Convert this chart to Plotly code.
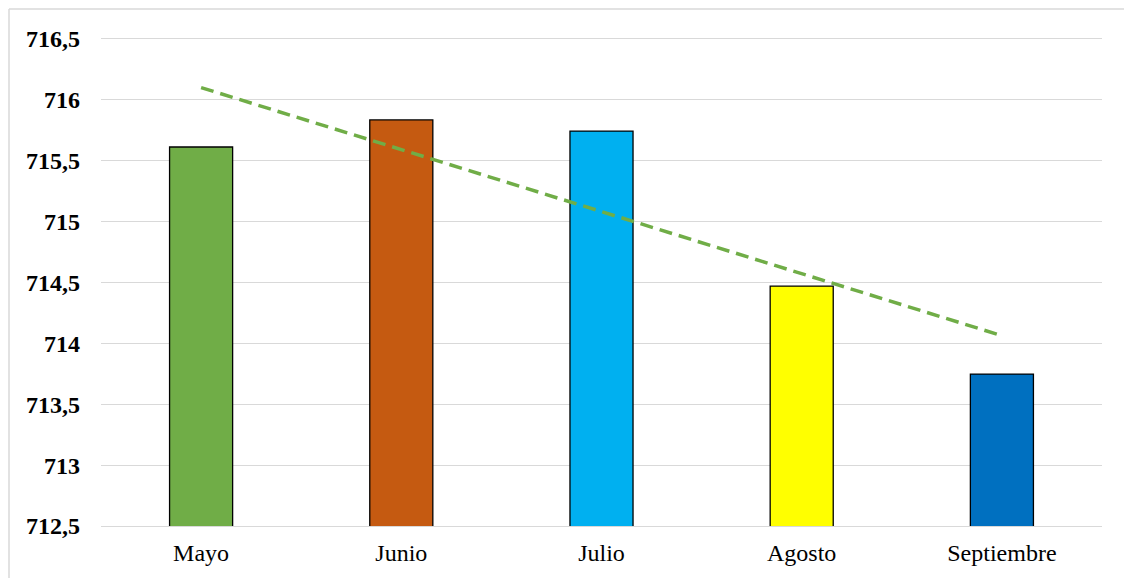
import numpy as np
import plotly.graph_objects as go

categories = ["Mayo", "Junio", "Julio", "Agosto", "Septiembre"]
values = [715.613, 715.835, 715.744, 714.471, 713.748]
colors = ["#70AD47", "#C55A11", "#00B0F0", "#FFFF00", "#0070C0"]
y_ticks = [712.5, 713, 713.5, 714, 714.5, 715, 715.5, 716, 716.5]
y_tick_labels = ["712,5", "713", "713,5", "714", "714,5", "715", "715,5", "716", "716,5"]

# linear trendline (least squares fit of the bar values)
xs = np.arange(1, len(values) + 1)
slope, intercept = np.polyfit(xs, values, 1)
trend = [slope * xs[0] + intercept, slope * xs[-1] + intercept]

fig = go.Figure()
fig.add_trace(go.Bar(
    x=categories, y=values,
    marker=dict(color=colors, line=dict(color="#000000", width=1.3)),
    width=0.315, showlegend=False, hoverinfo="x+y",
))
fig.add_trace(go.Scatter(
    x=[categories[0], categories[-1]], y=trend, mode="lines",
    line=dict(color="#70AD47", width=3.5, dash="13px,7px"),
    showlegend=False,
))

fig.update_layout(
    width=1124, height=578,
    margin=dict(l=101, r=22, t=39, b=52),
    paper_bgcolor="white", plot_bgcolor="white",
    font=dict(family="Liberation Serif", color="#000000"),
    xaxis=dict(
        showgrid=False, showline=True, mirror=True, linecolor="#D9D9D9", linewidth=1,
        tickfont=dict(family="Liberation Serif", size=24, color="#000000"),
        ticks="", ticklabelstandoff=5, automargin=False,
    ),
    yaxis=dict(
        range=[712.5, 716.5], tickvals=y_ticks, ticktext=y_tick_labels,
        showgrid=True, gridcolor="#D9D9D9", gridwidth=1,
        zeroline=False, showline=False, automargin=False,
        tickfont=dict(family="Liberation Serif", size=24, color="#000000", weight="bold"),
        ticks="", ticklabelstandoff=20,
    ),
    shapes=[
        dict(type="line", xref="paper", yref="paper",
             x0=(9 - 101) / 1001, x1=(1124 - 101) / 1001,
             y0=1 + (39 - 9) / 487, y1=1 + (39 - 9) / 487,
             line=dict(color="#D9D9D9", width=1.5)),
        dict(type="line", xref="paper", yref="paper",
             x0=(9 - 101) / 1001, x1=(9 - 101) / 1001,
             y0=1 + (39 - 9) / 487, y1=-60 / 487,
             line=dict(color="#D9D9D9", width=1.5)),
    ],
)

fig.write_html("out.html")
